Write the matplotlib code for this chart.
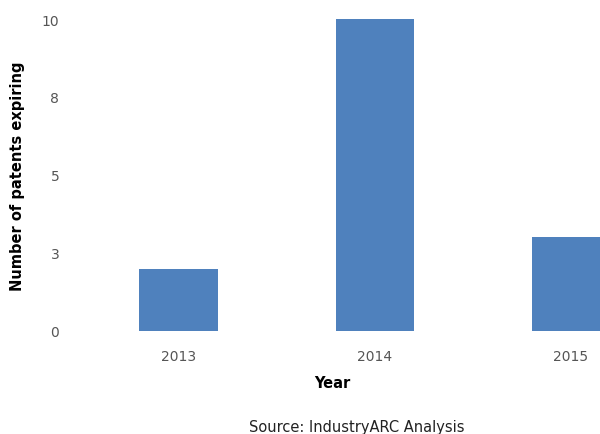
import matplotlib
matplotlib.use("Agg")
import matplotlib.pyplot as plt

# Data -----------------------------
years = ["2013", "2014", "2015"]
patents = [2, 10, 3]
yticks = [0, 2.5, 5, 7.5, 10]
ytick_labels = ["0", "3", "5", "8", "10"]
#-----------------------------------

fig = plt.figure(figsize=(6, 4.35), dpi=100)
ax = fig.add_axes([0.108, 0.237, 0.892, 0.717])

x = range(len(years))
ax.bar(x, patents, width=0.4, color="#4f81bd")

ax.set_xlim(-0.58, 2.148)
ax.set_ylim(0, 10)
ax.set_xticks(list(x))
ax.set_xticklabels(years, fontsize=10, color="#555555")
ax.set_yticks(yticks)
ax.set_yticklabels(ytick_labels, fontsize=10, color="#555555")
ax.tick_params(length=0)
ax.tick_params(axis="y", pad=4)
ax.tick_params(axis="x", pad=13)
for s in ax.spines.values():
    s.set_visible(False)

ax.set_xlabel("Year", fontsize=10.5, fontweight="bold", labelpad=9)
ax.set_ylabel("Number of patents expiring", fontsize=10.5, fontweight="bold")
ax.yaxis.set_label_coords(-0.074, 0.5)

fig.text(0.595, 0.0, "Source: IndustryARC Analysis", ha="center", va="bottom",
         fontsize=10.5, color="#222222")

fig.savefig("out.png", dpi=100)
